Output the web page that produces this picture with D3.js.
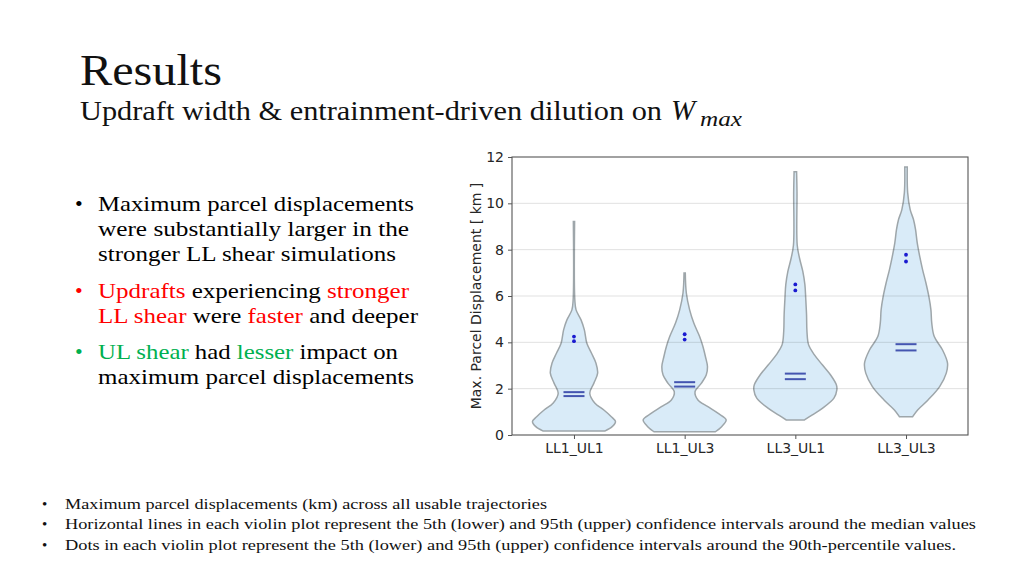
<!DOCTYPE html>
<html>
<head>
<meta charset="utf-8">
<script src="https://cdn.jsdelivr.net/npm/d3@7"></script>
<style>
  html, body { margin: 0; padding: 0; background: #fff; }
  svg { display: block; }
  .serif { font-family: "Liberation Serif", "DejaVu Serif", serif; }
  .axis text { font-family: "DejaVu Sans", sans-serif; font-size: 14px; fill: #262626; }
</style>
</head>
<body>
<div id="chart"></div>
<script>
// ---- data ----
const categories = ["LL1_UL1", "LL1_UL3", "LL3_UL1", "LL3_UL3"];
const yTicks = [0, 2, 4, 6, 8, 10, 12];

// violin outlines: [displacement km, relative half-width]
const densityLL1UL1 = [[0.17,0.74],[0.36,0.92],[0.58,1.0],[0.79,0.9],[1.08,0.72],[1.38,0.5],[1.8,0.38],[2.24,0.48],[2.67,0.57],[3.1,0.53],[3.54,0.42],[3.96,0.31],[4.54,0.25],[4.97,0.17],[5.4,0.05],[5.84,0.02],[9.22,0.015]];
const densityLL1UL3 = [[0.14,0.74],[0.36,0.89],[0.65,1.0],[0.94,0.8],[1.22,0.56],[1.51,0.32],[1.87,0.25],[2.23,0.4],[2.59,0.52],[2.95,0.55],[3.39,0.5],[3.82,0.44],[4.25,0.36],[4.83,0.22],[5.4,0.12],[6.13,0.04],[6.99,0.015]];
const densityLL3UL1 = [[0.65,0.22],[0.86,0.4],[1.15,0.65],[1.59,0.93],[1.95,1.0],[2.16,0.99],[2.59,0.85],[3.03,0.65],[3.46,0.46],[3.89,0.32],[4.47,0.28],[5.19,0.27],[5.91,0.25],[6.49,0.23],[7.06,0.18],[7.64,0.1],[8.2,0.045],[10.5,0.04],[11.36,0.03]];
const densityLL3UL3 = [[0.79,0.16],[1.08,0.28],[1.51,0.53],[2.09,0.81],[2.67,0.97],[3.1,1.0],[3.67,0.88],[4.25,0.68],[4.83,0.62],[5.4,0.6],[5.98,0.55],[6.56,0.48],[7.13,0.4],[7.71,0.33],[8.29,0.27],[8.86,0.23],[9.3,0.18],[9.73,0.1],[10.45,0.04],[11.57,0.03]];
const densities = [densityLL1UL1, densityLL1UL3, densityLL3UL1, densityLL3UL3];

// confidence intervals around the median (lines) and 90th percentile (dots)
const medianLow  = [1.68, 2.09, 2.41, 3.65];
const medianHigh = [1.85, 2.28, 2.65, 3.92];
const p90Low  = [4.05, 4.12, 6.24, 7.49];
const p90High = [4.25, 4.35, 6.50, 7.78];

const bullets = [
  [{t: "Maximum parcel displacements"}],
  [{t: "were substantially larger in the"}],
  [{t: "stronger LL shear simulations"}],
  [{t: "Updrafts", c: "#ff0000"}, {t: " experiencing "}, {t: "stronger", c: "#ff0000"}],
  [{t: "LL shear", c: "#ff0000"}, {t: " were "}, {t: "faster", c: "#ff0000"}, {t: " and deeper"}],
  [{t: "UL shear", c: "#00b050"}, {t: " had "}, {t: "lesser", c: "#00b050"}, {t: " impact on"}],
  [{t: "maximum parcel displacements"}]
];
const bulletStarts = [0, 3, 5];
const bulletColors = ["#000", "#ff0000", "#00b050"];

const footnotes = [
  "Maximum parcel displacements (km) across all usable trajectories",
  "Horizontal lines in each violin plot represent the 5th (lower) and 95th (upper) confidence intervals around the median values",
  "Dots in each violin plot represent the 5th (lower) and 95th (upper) confidence intervals around the 90th-percentile values."
];

// ---- layout ----
const W = 1024, H = 576;
const plot = {left: 512, right: 968, top: 157, bottom: 435};

const svg = d3.select("#chart").append("svg").attr("width", W).attr("height", H);
svg.append("rect").attr("width", W).attr("height", H).attr("fill", "#fff");

// title block
svg.append("text").attr("class", "serif")
  .attr("x", 80).attr("y", 85)
  .attr("font-size", 44).attr("fill", "#111")
  .attr("textLength", 142).attr("lengthAdjust", "spacingAndGlyphs")
  .text("Results");

svg.append("text").attr("class", "serif")
  .attr("x", 80).attr("y", 120)
  .attr("font-size", 27).attr("fill", "#111")
  .attr("textLength", 582).attr("lengthAdjust", "spacingAndGlyphs")
  .text("Updraft width & entrainment-driven dilution on");
svg.append("text").attr("class", "serif")
  .attr("x", 671).attr("y", 120)
  .attr("font-size", 29).attr("font-style", "italic").attr("fill", "#111")
  .text("W");
svg.append("text").attr("class", "serif")
  .attr("x", 700).attr("y", 126)
  .attr("font-size", 22).attr("font-style", "italic").attr("fill", "#111")
  .attr("textLength", 42).attr("lengthAdjust", "spacingAndGlyphs")
  .text("max");

// left bullets
const bulletBase = [211, 236, 261, 298, 323, 359, 384];
const bulletLen = [316, 311, 298, 311, 320, 300, 316];
bullets.forEach((line, i) => {
  const t = svg.append("text").attr("class", "serif")
    .attr("x", 98).attr("y", bulletBase[i])
    .attr("font-size", 22).attr("fill", "#000")
    .attr("textLength", bulletLen[i]).attr("lengthAdjust", "spacingAndGlyphs");
  line.forEach(seg => t.append("tspan").attr("fill", seg.c || "#000").text(seg.t));
});
bulletStarts.forEach((idx, k) => {
  svg.append("text").attr("class", "serif")
    .attr("x", 75).attr("y", bulletBase[idx])
    .attr("font-size", 22).attr("fill", bulletColors[k])
    .text("\u2022");
});

// footnotes
const footBase = [509, 529, 550];
const footLen = [482, 911, 891];
footnotes.forEach((s, i) => {
  svg.append("text").attr("class", "serif")
    .attr("x", 42).attr("y", footBase[i])
    .attr("font-size", 15).attr("fill", "#111")
    .text("\u2022");
  svg.append("text").attr("class", "serif")
    .attr("x", 65).attr("y", footBase[i])
    .attr("font-size", 15.5).attr("fill", "#111")
    .attr("textLength", footLen[i]).attr("lengthAdjust", "spacingAndGlyphs")
    .text(s);
});

// ---- chart ----
const x = d3.scalePoint().domain(categories).range([plot.left, plot.right]).padding(0.56);
const y = d3.scaleLinear().domain([0, 12]).range([plot.bottom, plot.top]);
const halfWidth = d3.scaleLinear().domain([0, 1]).range([0, 41.5]);

const g = svg.append("g");

// violins
categories.forEach((cat, i) => {
  const cx = x(cat);
  const area = d3.area()
    .y(d => y(d[0]))
    .x0(d => cx - halfWidth(d[1]))
    .x1(d => cx + halfWidth(d[1]))
    .curve(d3.curveCatmullRom.alpha(0.5));
  g.append("path")
    .datum(densities[i])
    .attr("d", area)
    .attr("fill", "#d9ebf8")
    .attr("stroke", "#9ea6aa")
    .attr("stroke-width", 1.5);
});

// gridlines (show faintly through the violins)
g.selectAll("line.grid")
  .data(yTicks.filter(v => v > 0 && v < 12))
  .join("line")
  .attr("class", "grid")
  .attr("x1", plot.left).attr("x2", plot.right)
  .attr("y1", d => y(d)).attr("y2", d => y(d))
  .attr("stroke", "#000").attr("stroke-opacity", 0.12).attr("stroke-width", 1);

// median CI lines
[medianLow, medianHigh].forEach(arr => {
  g.selectAll(null)
    .data(categories)
    .join("line")
    .attr("x1", d => x(d) - 10.5).attr("x2", d => x(d) + 10.5)
    .attr("y1", (d, i) => y(arr[i])).attr("y2", (d, i) => y(arr[i]))
    .attr("stroke", "#4455b0").attr("stroke-width", 2);
});

// 90th percentile CI dots
[p90Low, p90High].forEach(arr => {
  g.selectAll(null)
    .data(categories)
    .join("circle")
    .attr("cx", d => x(d))
    .attr("cy", (d, i) => y(arr[i]))
    .attr("r", 1.9)
    .attr("fill", "#1a1ad0");
});

// frame
g.append("rect")
  .attr("x", plot.left).attr("y", plot.top)
  .attr("width", plot.right - plot.left).attr("height", plot.bottom - plot.top)
  .attr("fill", "none").attr("stroke", "#555").attr("stroke-width", 1.1);

// axes
const yAxis = g.append("g").attr("class", "axis")
  .attr("transform", `translate(${plot.left},0)`)
  .call(d3.axisLeft(y).tickValues(yTicks).tickSize(4).tickPadding(4));
const xAxis = g.append("g").attr("class", "axis")
  .attr("transform", `translate(0,${plot.bottom})`)
  .call(d3.axisBottom(x).tickSize(4).tickPadding(4));
[yAxis, xAxis].forEach(a => {
  a.select(".domain").remove();
  a.selectAll(".tick line").attr("stroke", "#555");
});

g.append("text")
  .attr("transform", `translate(481,${(plot.top + plot.bottom) / 2}) rotate(-90)`)
  .attr("text-anchor", "middle")
  .attr("font-family", "DejaVu Sans, sans-serif")
  .attr("font-size", 14).attr("fill", "#262626")
  .text("Max. Parcel Displacement [ km ]");
</script>
</body>
</html>
